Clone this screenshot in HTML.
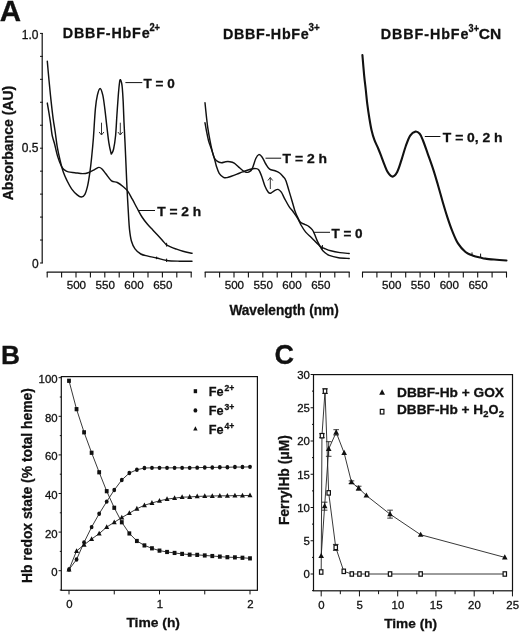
<!DOCTYPE html><html><head><meta charset="utf-8"><style>html,body{margin:0;padding:0;background:#fff;}body{width:520px;height:632px;overflow:hidden;}svg{display:block;will-change:transform;}text{font-family:"Liberation Sans",sans-serif;fill:#111;stroke:#111;stroke-width:0.3px;}</style></head><body>
<svg width="520" height="632" viewBox="0 0 520 632">
<rect width="520" height="632" fill="#fff"/>
<g stroke="#111" fill="none" stroke-linecap="butt">
<line x1="42.2" y1="33" x2="42.2" y2="263.2" stroke-width="1.2"/>
<line x1="40" y1="263" x2="42.8" y2="263" stroke-width="1"/>
<line x1="40" y1="240.04" x2="42.8" y2="240.04" stroke-width="1"/>
<line x1="40" y1="217.08" x2="42.8" y2="217.08" stroke-width="1"/>
<line x1="40" y1="194.12" x2="42.8" y2="194.12" stroke-width="1"/>
<line x1="40" y1="171.16" x2="42.8" y2="171.16" stroke-width="1"/>
<line x1="40" y1="148.2" x2="42.8" y2="148.2" stroke-width="1"/>
<line x1="40" y1="125.24" x2="42.8" y2="125.24" stroke-width="1"/>
<line x1="40" y1="102.28" x2="42.8" y2="102.28" stroke-width="1"/>
<line x1="40" y1="79.32" x2="42.8" y2="79.32" stroke-width="1"/>
<line x1="40" y1="56.36" x2="42.8" y2="56.36" stroke-width="1"/>
<line x1="40" y1="33.4" x2="42.8" y2="33.4" stroke-width="1"/>
<line x1="46.7" y1="272.2" x2="191.7" y2="272.2" stroke-width="1.2"/>
<line x1="47.2" y1="272" x2="47.2" y2="277.6" stroke-width="1.1"/>
<line x1="61.6" y1="272" x2="61.6" y2="277.6" stroke-width="1.1"/>
<line x1="76" y1="272" x2="76" y2="277.6" stroke-width="1.1"/>
<line x1="90.4" y1="272" x2="90.4" y2="277.6" stroke-width="1.1"/>
<line x1="104.8" y1="272" x2="104.8" y2="277.6" stroke-width="1.1"/>
<line x1="119.2" y1="272" x2="119.2" y2="277.6" stroke-width="1.1"/>
<line x1="133.6" y1="272" x2="133.6" y2="277.6" stroke-width="1.1"/>
<line x1="148" y1="272" x2="148" y2="277.6" stroke-width="1.1"/>
<line x1="162.4" y1="272" x2="162.4" y2="277.6" stroke-width="1.1"/>
<line x1="176.8" y1="272" x2="176.8" y2="277.6" stroke-width="1.1"/>
<line x1="191.2" y1="272" x2="191.2" y2="277.6" stroke-width="1.1"/>
<line x1="204.7" y1="272.2" x2="349.7" y2="272.2" stroke-width="1.2"/>
<line x1="205.2" y1="272" x2="205.2" y2="277.6" stroke-width="1.1"/>
<line x1="219.6" y1="272" x2="219.6" y2="277.6" stroke-width="1.1"/>
<line x1="234" y1="272" x2="234" y2="277.6" stroke-width="1.1"/>
<line x1="248.4" y1="272" x2="248.4" y2="277.6" stroke-width="1.1"/>
<line x1="262.8" y1="272" x2="262.8" y2="277.6" stroke-width="1.1"/>
<line x1="277.2" y1="272" x2="277.2" y2="277.6" stroke-width="1.1"/>
<line x1="291.6" y1="272" x2="291.6" y2="277.6" stroke-width="1.1"/>
<line x1="306" y1="272" x2="306" y2="277.6" stroke-width="1.1"/>
<line x1="320.4" y1="272" x2="320.4" y2="277.6" stroke-width="1.1"/>
<line x1="334.8" y1="272" x2="334.8" y2="277.6" stroke-width="1.1"/>
<line x1="349.2" y1="272" x2="349.2" y2="277.6" stroke-width="1.1"/>
<line x1="362" y1="272.2" x2="507" y2="272.2" stroke-width="1.2"/>
<line x1="362.5" y1="272" x2="362.5" y2="277.6" stroke-width="1.1"/>
<line x1="376.9" y1="272" x2="376.9" y2="277.6" stroke-width="1.1"/>
<line x1="391.3" y1="272" x2="391.3" y2="277.6" stroke-width="1.1"/>
<line x1="405.7" y1="272" x2="405.7" y2="277.6" stroke-width="1.1"/>
<line x1="420.1" y1="272" x2="420.1" y2="277.6" stroke-width="1.1"/>
<line x1="434.5" y1="272" x2="434.5" y2="277.6" stroke-width="1.1"/>
<line x1="448.9" y1="272" x2="448.9" y2="277.6" stroke-width="1.1"/>
<line x1="463.3" y1="272" x2="463.3" y2="277.6" stroke-width="1.1"/>
<line x1="477.7" y1="272" x2="477.7" y2="277.6" stroke-width="1.1"/>
<line x1="492.1" y1="272" x2="492.1" y2="277.6" stroke-width="1.1"/>
<line x1="506.5" y1="272" x2="506.5" y2="277.6" stroke-width="1.1"/>
</g>
<g stroke="#111" fill="none" stroke-width="1.45" stroke-linejoin="round" stroke-linecap="round">
<path d="M47.3,61.3 C47.58,64.47 48.4,73.97 49,80.3 C49.6,86.63 50.22,92.97 50.9,99.3 C51.58,105.63 52.38,112.85 53.1,118.3 C53.82,123.75 54.52,127.28 55.2,132 C55.88,136.72 56.4,141.95 57.2,146.6 C58,151.25 58.98,155.65 60,159.9 C61.02,164.15 62.1,168.58 63.3,172.1 C64.5,175.62 65.82,178.22 67.2,181 C68.58,183.78 69.93,186.48 71.6,188.8 C73.27,191.12 75.57,193.53 77.2,194.9 C78.83,196.27 80.12,197.1 81.4,197 C82.68,196.9 83.85,196.23 84.9,194.3 C85.95,192.37 86.87,189.1 87.7,185.4 C88.53,181.7 89.25,176.72 89.9,172.1 C90.55,167.48 91.02,163.38 91.6,157.7 C92.18,152.02 92.77,146.18 93.4,138 C94.03,129.82 94.73,115.73 95.4,108.6 C96.07,101.47 96.62,98.57 97.4,95.2 C98.18,91.83 99.2,88.4 100.1,88.4 C101,88.4 102.02,91.83 102.8,95.2 C103.58,98.57 104.13,103.45 104.8,108.6 C105.47,113.75 106.13,120.48 106.8,126.1 C107.47,131.72 108.12,137.88 108.8,142.3 C109.48,146.72 110.43,150.7 110.9,152.6 C111.37,154.5 111.15,154.3 111.6,153.7 C112.05,153.1 112.93,152.03 113.6,149 C114.27,145.97 115.05,141.12 115.6,135.5 C116.15,129.88 116.45,122.02 116.9,115.3 C117.35,108.58 117.85,100.75 118.3,95.2 C118.75,89.65 119.23,84.58 119.6,82 C119.97,79.42 120.17,79.53 120.5,79.7 C120.83,79.87 121.3,81.62 121.6,83 C121.9,84.38 122.03,84.85 122.3,88 C122.57,91.15 122.92,96.22 123.2,101.9 C123.48,107.58 123.7,115.37 124,122.1 C124.3,128.83 124.67,135.15 125,142.3 C125.33,149.45 125.65,157.05 126,165 C126.35,172.95 126.68,181.67 127.1,190 C127.52,198.33 128.1,208.43 128.5,215 C128.9,221.57 129.02,225.07 129.5,229.4 C129.98,233.73 130.48,237.75 131.4,241 C132.32,244.25 133.43,246.73 135,248.9 C136.57,251.07 138.63,252.8 140.8,254 C142.97,255.2 145.37,255.43 148,256.1 C150.63,256.77 153.48,257.27 156.6,258 C159.72,258.73 162.85,259.97 166.7,260.5 C170.55,261.03 175.48,261.08 179.7,261.2 C183.92,261.32 189.95,261.2 192,261.2"/>
<path d="M47.3,103.1 C47.58,104.78 48.45,109.82 49,113.2 C49.55,116.58 50.08,119.77 50.6,123.4 C51.12,127.03 51.47,131.68 52.1,135 C52.73,138.32 53.47,139.7 54.4,143.3 C55.33,146.9 56.5,152.72 57.7,156.6 C58.9,160.48 60.48,164.38 61.6,166.6 C62.72,168.82 63.28,169.02 64.4,169.9 C65.52,170.78 66.55,171.43 68.3,171.9 C70.05,172.37 72.5,172.42 74.9,172.7 C77.3,172.98 80.48,173.6 82.7,173.6 C84.92,173.6 86.17,173.4 88.2,172.7 C90.23,172 93.12,170.28 94.9,169.4 C96.68,168.52 97.72,167.47 98.9,167.4 C100.08,167.33 100.85,167.93 102,169 C103.15,170.07 104.22,171.83 105.8,173.8 C107.38,175.77 109.58,179.35 111.5,180.8 C113.42,182.25 115.38,181.55 117.3,182.5 C119.22,183.45 121.27,185.07 123,186.5 C124.73,187.93 126.15,188.98 127.7,191.1 C129.25,193.22 130.75,196.38 132.3,199.2 C133.85,202.02 135.38,205.03 137,208 C138.62,210.97 140.25,214.28 142,217 C143.75,219.72 145.67,222.1 147.5,224.3 C149.33,226.5 151.25,228.32 153,230.2 C154.75,232.08 156.42,233.88 158,235.6 C159.58,237.32 161.13,239 162.5,240.5 C163.87,242 164.95,243.58 166.2,244.6 C167.45,245.62 168.37,245.87 170,246.6 C171.63,247.33 173.83,248.22 176,249 C178.17,249.78 180.33,250.58 183,251.3 C185.67,252.02 190.5,252.97 192,253.3"/>
<path d="M205,102.8 C205.23,105.07 205.93,112.23 206.4,116.4 C206.87,120.57 207.2,123.77 207.8,127.8 C208.4,131.83 209.28,136.8 210,140.6 C210.72,144.4 211.4,147.75 212.1,150.6 C212.8,153.45 213.37,155.93 214.2,157.7 C215.03,159.47 215.9,160.37 217.1,161.2 C218.3,162.03 219.98,162.62 221.4,162.7 C222.82,162.78 224.18,161.87 225.6,161.7 C227.02,161.53 228.47,161.47 229.9,161.7 C231.33,161.93 232.77,162.23 234.2,163.1 C235.63,163.97 237.08,165.67 238.5,166.9 C239.92,168.13 241.45,169.6 242.7,170.5 C243.95,171.4 244.95,172.08 246,172.3 C247.05,172.52 248,172.32 249,171.8 C250,171.28 250.87,171.42 252,169.2 C253.13,166.98 254.67,160.93 255.8,158.5 C256.93,156.07 257.73,154.82 258.8,154.6 C259.87,154.38 261.03,155.63 262.2,157.2 C263.37,158.77 264.57,162 265.8,164 C267.03,166 268.07,168.07 269.6,169.2 C271.13,170.33 273.33,170.17 275,170.8 C276.67,171.43 278.27,172.05 279.6,173 C280.93,173.95 281.97,175.25 283,176.5 C284.03,177.75 284.78,178.07 285.8,180.5 C286.82,182.93 288,187.48 289.1,191.1 C290.2,194.72 291.48,199.07 292.4,202.2 C293.32,205.33 293.87,207.68 294.6,209.9 C295.33,212.12 295.87,213.47 296.8,215.5 C297.73,217.53 298.9,220.63 300.2,222.1 C301.5,223.57 303.13,223.55 304.6,224.3 C306.07,225.05 307.7,225.67 309,226.6 C310.3,227.53 311.47,228.62 312.4,229.9 C313.33,231.18 313.87,232.63 314.6,234.3 C315.33,235.97 315.97,238.05 316.8,239.9 C317.63,241.75 318.77,243.83 319.6,245.4 C320.43,246.97 320.98,248.15 321.8,249.3 C322.62,250.45 323.27,251.28 324.5,252.3 C325.73,253.32 326.87,254.5 329.2,255.4 C331.53,256.3 335.17,257.18 338.5,257.7 C341.83,258.22 347.42,258.37 349.2,258.5"/>
<path d="M205,122.8 C205.23,124.1 205.82,127.63 206.4,130.6 C206.98,133.57 207.67,137.52 208.5,140.6 C209.33,143.68 210.45,146.25 211.4,149.1 C212.35,151.95 213.37,154.85 214.2,157.7 C215.03,160.55 215.57,163.6 216.4,166.2 C217.23,168.8 218.02,171.45 219.2,173.3 C220.38,175.15 222.18,176.58 223.5,177.3 C224.82,178.02 225.8,177.78 227.1,177.6 C228.4,177.42 229.65,176.78 231.3,176.2 C232.95,175.62 235.1,174.82 237,174.1 C238.9,173.38 240.47,172.72 242.7,171.9 C244.93,171.08 248.22,169.75 250.4,169.2 C252.58,168.65 254.4,168.47 255.8,168.6 C257.2,168.73 257.78,168.62 258.8,170 C259.82,171.38 260.87,174.2 261.9,176.9 C262.93,179.6 263.93,183.63 265,186.2 C266.07,188.77 267.37,191.13 268.3,192.3 C269.23,193.47 269.62,193.45 270.6,193.2 C271.58,192.95 272.97,191.43 274.2,190.8 C275.43,190.17 276.82,189.17 278,189.4 C279.18,189.63 280.18,190.63 281.3,192.2 C282.42,193.77 283.4,196.4 284.7,198.8 C286,201.2 287.63,204.37 289.1,206.6 C290.57,208.83 292.02,210.17 293.5,212.2 C294.98,214.23 296.7,216.58 298,218.8 C299.3,221.02 300.02,223.28 301.3,225.5 C302.58,227.72 304.03,230.08 305.7,232.1 C307.37,234.12 309.63,235.93 311.3,237.6 C312.97,239.27 314.23,240.65 315.7,242.1 C317.17,243.55 318.62,245.23 320.1,246.3 C321.58,247.37 322.82,247.75 324.6,248.5 C326.38,249.25 328.23,250.12 330.8,250.8 C333.37,251.48 336.93,252.15 340,252.6 C343.07,253.05 347.67,253.35 349.2,253.5"/>
<path d="M362.4,55 C362.7,58.47 363.63,69.97 364.2,75.8 C364.77,81.63 365.28,85.27 365.8,90 C366.32,94.73 366.7,99.45 367.3,104.2 C367.9,108.95 368.7,114.22 369.4,118.5 C370.1,122.78 370.67,126.33 371.5,129.9 C372.33,133.47 373.32,136.88 374.4,139.9 C375.48,142.92 376.85,145.27 378,148 C379.15,150.73 380.23,153.53 381.3,156.3 C382.37,159.07 383.3,161.92 384.4,164.6 C385.5,167.28 386.55,170.4 387.9,172.4 C389.25,174.4 390.95,176.68 392.5,176.6 C394.05,176.52 395.7,174.7 397.2,171.9 C398.7,169.1 400.07,164.12 401.5,159.8 C402.93,155.48 404.35,150.03 405.8,146 C407.25,141.97 408.6,138 410.2,135.6 C411.8,133.2 413.82,131.9 415.4,131.6 C416.98,131.3 418.47,132.4 419.7,133.8 C420.93,135.2 421.48,136.75 422.8,140 C424.12,143.25 425.85,148.37 427.6,153.3 C429.35,158.23 431.57,164.28 433.3,169.6 C435.03,174.92 436.42,179.77 438,185.2 C439.58,190.63 441.22,196.8 442.8,202.2 C444.38,207.6 445.92,212.78 447.5,217.6 C449.08,222.42 450.55,226.8 452.3,231.1 C454.05,235.4 455.8,239.92 458,243.4 C460.2,246.88 462.98,249.95 465.5,252 C468.02,254.05 470.58,254.77 473.1,255.7 C475.62,256.63 478.55,257.12 480.6,257.6 C482.65,258.08 483.17,258.28 485.4,258.6 C487.63,258.92 490.48,259.18 494,259.5 C497.52,259.82 504.42,260.33 506.5,260.5" stroke-width="2.1"/>
</g>
<g stroke="#111" stroke-width="1.1">
<line x1="166.6" y1="258.6" x2="166.6" y2="262" stroke-width="1"/>
<line x1="166.6" y1="242.8" x2="166.6" y2="246.6" stroke-width="1"/>
<line x1="156.6" y1="256.6" x2="156.6" y2="259.2" stroke-width="1"/>
<line x1="322.4" y1="245" x2="322.4" y2="249.6" stroke-width="1"/>
<line x1="472" y1="252.4" x2="472" y2="255.6" stroke-width="1"/>
<line x1="480.6" y1="253.6" x2="480.6" y2="257.8" stroke-width="1"/>
</g>
<g stroke="#111" stroke-width="1.2">
<line x1="125.4" y1="82.6" x2="142.3" y2="82.6" stroke-width="1"/>
<line x1="138.8" y1="210.5" x2="155" y2="210.5" stroke-width="1"/>
<line x1="265.5" y1="158.2" x2="281.2" y2="158.2" stroke-width="1"/>
<line x1="313.5" y1="232.3" x2="330" y2="232.3" stroke-width="1"/>
<line x1="424.8" y1="136.5" x2="440.4" y2="136.5" stroke-width="1"/>
</g>
<line x1="101.5" y1="122.7" x2="101.5" y2="135" stroke="#333" stroke-width="1.0"/>
<path d="M99.1,132 L101.5,135 L103.9,132" fill="none" stroke="#333" stroke-width="1.0"/>
<line x1="120.3" y1="122.7" x2="120.3" y2="135" stroke="#333" stroke-width="1.0"/>
<path d="M117.9,132 L120.3,135 L122.7,132" fill="none" stroke="#333" stroke-width="1.0"/>
<line x1="270.3" y1="177.5" x2="270.3" y2="189" stroke="#333" stroke-width="1.0"/>
<path d="M267.9,180.5 L270.3,177.5 L272.7,180.5" fill="none" stroke="#333" stroke-width="1.0"/>
<text x="-0.3" y="20.8" font-size="29.5" font-weight="bold">A</text>
<text x="62.8" y="38" font-size="14.3" font-weight="bold" textLength="86.8" lengthAdjust="spacing">DBBF-HbFe</text>
<text x="149.4" y="30.6" font-size="10.2" font-weight="bold" textLength="10.6" lengthAdjust="spacingAndGlyphs">2+</text>
<text x="222.9" y="38.7" font-size="14.3" font-weight="bold" textLength="85.8" lengthAdjust="spacing">DBBF-HbFe</text>
<text x="308.5" y="31.3" font-size="10.2" font-weight="bold" textLength="11.2" lengthAdjust="spacingAndGlyphs">3+</text>
<text x="380.8" y="38.9" font-size="14.3" font-weight="bold" textLength="87.6" lengthAdjust="spacing">DBBF-HbFe</text>
<text x="468.6" y="31.5" font-size="10.2" font-weight="bold" textLength="10.4" lengthAdjust="spacingAndGlyphs">3+</text>
<text x="478.8" y="38.9" font-size="13.9" font-weight="bold" textLength="22.4" lengthAdjust="spacingAndGlyphs">CN</text>
<text x="143.6" y="88.3" font-size="13.2" font-weight="bold" textLength="31.2" lengthAdjust="spacingAndGlyphs">T = 0</text>
<text x="157.2" y="216.2" font-size="13.2" font-weight="bold" textLength="44" lengthAdjust="spacingAndGlyphs">T = 2 h</text>
<text x="282.6" y="163.4" font-size="13.2" font-weight="bold" textLength="44.4" lengthAdjust="spacingAndGlyphs">T = 2 h</text>
<text x="331.4" y="237.6" font-size="13.2" font-weight="bold" textLength="31.2" lengthAdjust="spacingAndGlyphs">T = 0</text>
<text x="442.8" y="142.3" font-size="13.2" font-weight="bold" textLength="59.8" lengthAdjust="spacingAndGlyphs">T = 0, 2 h</text>
<text x="38.4" y="38.7" font-size="12" text-anchor="end">1.0</text>
<text x="38.4" y="151.5" font-size="12" text-anchor="end">0.5</text>
<text x="38.7" y="267.5" font-size="12" text-anchor="end">0</text>
<text x="76.4" y="288.7" font-size="11.6" text-anchor="middle">500</text>
<text x="105.2" y="288.7" font-size="11.6" text-anchor="middle">550</text>
<text x="134" y="288.7" font-size="11.6" text-anchor="middle">600</text>
<text x="162.8" y="288.7" font-size="11.6" text-anchor="middle">650</text>
<text x="234.4" y="288.7" font-size="11.6" text-anchor="middle">500</text>
<text x="263.2" y="288.7" font-size="11.6" text-anchor="middle">550</text>
<text x="292" y="288.7" font-size="11.6" text-anchor="middle">600</text>
<text x="320.8" y="288.7" font-size="11.6" text-anchor="middle">650</text>
<text x="391.7" y="288.7" font-size="11.6" text-anchor="middle">500</text>
<text x="420.5" y="288.7" font-size="11.6" text-anchor="middle">550</text>
<text x="449.3" y="288.7" font-size="11.6" text-anchor="middle">600</text>
<text x="478.1" y="288.7" font-size="11.6" text-anchor="middle">650</text>
<text x="229.4" y="314.5" font-size="14" font-weight="bold" textLength="109.4" lengthAdjust="spacingAndGlyphs">Wavelength (nm)</text>
<text transform="translate(12.7,200.3) rotate(-90)" x="0" y="0" font-size="14.4" font-weight="bold" textLength="114.6" lengthAdjust="spacingAndGlyphs">Absorbance (AU)</text>
<g stroke="#111" fill="none">
<rect x="61.3" y="376.6" width="196.1" height="213.7" stroke-width="1.2"/>
<line x1="59.8" y1="590" x2="61.3" y2="590" stroke-width="1"/>
<line x1="58.6" y1="570.7" x2="61.3" y2="570.7" stroke-width="1"/>
<line x1="59.8" y1="551.4" x2="61.3" y2="551.4" stroke-width="1"/>
<line x1="58.6" y1="532.1" x2="61.3" y2="532.1" stroke-width="1"/>
<line x1="59.8" y1="512.8" x2="61.3" y2="512.8" stroke-width="1"/>
<line x1="58.6" y1="493.5" x2="61.3" y2="493.5" stroke-width="1"/>
<line x1="59.8" y1="474.2" x2="61.3" y2="474.2" stroke-width="1"/>
<line x1="58.6" y1="454.9" x2="61.3" y2="454.9" stroke-width="1"/>
<line x1="59.8" y1="435.6" x2="61.3" y2="435.6" stroke-width="1"/>
<line x1="58.6" y1="416.3" x2="61.3" y2="416.3" stroke-width="1"/>
<line x1="59.8" y1="397" x2="61.3" y2="397" stroke-width="1"/>
<line x1="58.6" y1="377.7" x2="61.3" y2="377.7" stroke-width="1"/>
<line x1="69" y1="590.3" x2="69" y2="594.4" stroke-width="1"/>
<line x1="114.25" y1="590.3" x2="114.25" y2="594.4" stroke-width="1"/>
<line x1="159.5" y1="590.3" x2="159.5" y2="594.4" stroke-width="1"/>
<line x1="204.75" y1="590.3" x2="204.75" y2="594.4" stroke-width="1"/>
<line x1="250" y1="590.3" x2="250" y2="594.4" stroke-width="1"/>
</g>
<g stroke="#222" fill="none" stroke-width="0.9">
<path d="M69,380.79 L76.54,409.16 L84.08,432.32 L91.62,452.78 L99.17,472.27 L106.71,491.18 L114.25,507.78 L121.79,522.26 L129.33,533.45 L136.88,540.98 L144.42,545.42 L151.96,548.31 L159.5,550.63 L167.04,551.98 L174.58,552.94 L182.12,553.91 L189.67,554.68 L197.21,554.87 L204.75,555.45 L212.29,556.03 L219.83,556.61 L227.38,557.19 L234.92,557.38 L242.46,557.77 L250,558.35"/>
<path d="M69,569.54 L76.54,559.51 L84.08,542.33 L91.62,527.08 L99.17,513.77 L106.71,501.61 L114.25,490.03 L121.79,479.99 L129.33,473.04 L136.88,469.76 L144.42,468.02 L151.96,467.83 L159.5,467.83 L167.04,467.83 L174.58,467.83 L182.12,467.83 L189.67,467.83 L197.21,467.64 L204.75,467.45 L212.29,467.45 L219.83,467.25 L227.38,467.25 L234.92,467.06 L242.46,467.06 L250,466.87"/>
<path d="M69,569.54 L76.54,551.01 L84.08,544.84 L91.62,539.05 L99.17,533.64 L106.71,527.08 L114.25,522.26 L121.79,517.62 L129.33,513.19 L136.88,508.75 L144.42,505.27 L151.96,502.96 L159.5,500.83 L167.04,499.1 L174.58,498.13 L182.12,497.17 L189.67,496.97 L197.21,496.4 L204.75,496.2 L212.29,496.01 L219.83,495.82 L227.38,495.82 L234.92,495.62 L242.46,495.62 L250,495.43"/>
</g>
<g fill="#111" stroke="none">
<rect x="67.1" y="378.69" width="3.8" height="4.2"/>
<rect x="74.64" y="407.06" width="3.8" height="4.2"/>
<rect x="82.18" y="430.22" width="3.8" height="4.2"/>
<rect x="89.72" y="450.68" width="3.8" height="4.2"/>
<rect x="97.27" y="470.17" width="3.8" height="4.2"/>
<rect x="104.81" y="489.08" width="3.8" height="4.2"/>
<rect x="112.35" y="505.68" width="3.8" height="4.2"/>
<rect x="119.89" y="520.16" width="3.8" height="4.2"/>
<rect x="127.43" y="531.35" width="3.8" height="4.2"/>
<rect x="134.97" y="538.88" width="3.8" height="4.2"/>
<rect x="142.52" y="543.32" width="3.8" height="4.2"/>
<rect x="150.06" y="546.21" width="3.8" height="4.2"/>
<rect x="157.6" y="548.53" width="3.8" height="4.2"/>
<rect x="165.14" y="549.88" width="3.8" height="4.2"/>
<rect x="172.68" y="550.84" width="3.8" height="4.2"/>
<rect x="180.22" y="551.81" width="3.8" height="4.2"/>
<rect x="187.77" y="552.58" width="3.8" height="4.2"/>
<rect x="195.31" y="552.77" width="3.8" height="4.2"/>
<rect x="202.85" y="553.35" width="3.8" height="4.2"/>
<rect x="210.39" y="553.93" width="3.8" height="4.2"/>
<rect x="217.93" y="554.51" width="3.8" height="4.2"/>
<rect x="225.47" y="555.09" width="3.8" height="4.2"/>
<rect x="233.02" y="555.28" width="3.8" height="4.2"/>
<rect x="240.56" y="555.67" width="3.8" height="4.2"/>
<rect x="248.1" y="556.25" width="3.8" height="4.2"/>
<ellipse cx="69" cy="569.54" rx="1.9" ry="2.2"/>
<ellipse cx="76.54" cy="559.51" rx="1.9" ry="2.2"/>
<ellipse cx="84.08" cy="542.33" rx="1.9" ry="2.2"/>
<ellipse cx="91.62" cy="527.08" rx="1.9" ry="2.2"/>
<ellipse cx="99.17" cy="513.77" rx="1.9" ry="2.2"/>
<ellipse cx="106.71" cy="501.61" rx="1.9" ry="2.2"/>
<ellipse cx="114.25" cy="490.03" rx="1.9" ry="2.2"/>
<ellipse cx="121.79" cy="479.99" rx="1.9" ry="2.2"/>
<ellipse cx="129.33" cy="473.04" rx="1.9" ry="2.2"/>
<ellipse cx="136.88" cy="469.76" rx="1.9" ry="2.2"/>
<ellipse cx="144.42" cy="468.02" rx="1.9" ry="2.2"/>
<ellipse cx="151.96" cy="467.83" rx="1.9" ry="2.2"/>
<ellipse cx="159.5" cy="467.83" rx="1.9" ry="2.2"/>
<ellipse cx="167.04" cy="467.83" rx="1.9" ry="2.2"/>
<ellipse cx="174.58" cy="467.83" rx="1.9" ry="2.2"/>
<ellipse cx="182.12" cy="467.83" rx="1.9" ry="2.2"/>
<ellipse cx="189.67" cy="467.83" rx="1.9" ry="2.2"/>
<ellipse cx="197.21" cy="467.64" rx="1.9" ry="2.2"/>
<ellipse cx="204.75" cy="467.45" rx="1.9" ry="2.2"/>
<ellipse cx="212.29" cy="467.45" rx="1.9" ry="2.2"/>
<ellipse cx="219.83" cy="467.25" rx="1.9" ry="2.2"/>
<ellipse cx="227.38" cy="467.25" rx="1.9" ry="2.2"/>
<ellipse cx="234.92" cy="467.06" rx="1.9" ry="2.2"/>
<ellipse cx="242.46" cy="467.06" rx="1.9" ry="2.2"/>
<ellipse cx="250" cy="466.87" rx="1.9" ry="2.2"/>
<path d="M69,566.66 L71.5,571.46 L66.5,571.46 Z"/>
<path d="M76.54,548.13 L79.04,552.93 L74.04,552.93 Z"/>
<path d="M84.08,541.96 L86.58,546.76 L81.58,546.76 Z"/>
<path d="M91.62,536.17 L94.12,540.97 L89.12,540.97 Z"/>
<path d="M99.17,530.76 L101.67,535.56 L96.67,535.56 Z"/>
<path d="M106.71,524.2 L109.21,529 L104.21,529 Z"/>
<path d="M114.25,519.38 L116.75,524.18 L111.75,524.18 Z"/>
<path d="M121.79,514.75 L124.29,519.54 L119.29,519.54 Z"/>
<path d="M129.33,510.31 L131.83,515.11 L126.83,515.11 Z"/>
<path d="M136.88,505.87 L139.38,510.67 L134.38,510.67 Z"/>
<path d="M144.42,502.39 L146.92,507.19 L141.92,507.19 Z"/>
<path d="M151.96,500.08 L154.46,504.88 L149.46,504.88 Z"/>
<path d="M159.5,497.95 L162,502.75 L157,502.75 Z"/>
<path d="M167.04,496.22 L169.54,501.02 L164.54,501.02 Z"/>
<path d="M174.58,495.25 L177.08,500.05 L172.08,500.05 Z"/>
<path d="M182.12,494.29 L184.62,499.09 L179.62,499.09 Z"/>
<path d="M189.67,494.09 L192.17,498.89 L187.17,498.89 Z"/>
<path d="M197.21,493.52 L199.71,498.32 L194.71,498.32 Z"/>
<path d="M204.75,493.32 L207.25,498.12 L202.25,498.12 Z"/>
<path d="M212.29,493.13 L214.79,497.93 L209.79,497.93 Z"/>
<path d="M219.83,492.94 L222.33,497.74 L217.33,497.74 Z"/>
<path d="M227.38,492.94 L229.88,497.74 L224.88,497.74 Z"/>
<path d="M234.92,492.74 L237.42,497.54 L232.42,497.54 Z"/>
<path d="M242.46,492.74 L244.96,497.54 L239.96,497.54 Z"/>
<path d="M250,492.55 L252.5,497.35 L247.5,497.35 Z"/>
<rect x="193.7" y="389.2" width="3.4" height="4"/>
<ellipse cx="195.4" cy="410.4" rx="1.9" ry="2.2"/>
<path d="M195.4,426.28 L197.6,430.48 L193.2,430.48 Z"/>
</g>
<text x="1" y="364.2" font-size="25.5" font-weight="bold" textLength="19" lengthAdjust="spacingAndGlyphs">B</text>
<text x="57.6" y="576.2" font-size="11.4" text-anchor="end">0</text>
<text x="57.6" y="537.6" font-size="11.4" text-anchor="end">20</text>
<text x="57.6" y="499" font-size="11.4" text-anchor="end">40</text>
<text x="57.6" y="460.4" font-size="11.4" text-anchor="end">60</text>
<text x="57.6" y="421.8" font-size="11.4" text-anchor="end">80</text>
<text x="57.6" y="383.2" font-size="11.4" text-anchor="end">100</text>
<text x="69.4" y="608" font-size="11.4" text-anchor="middle">0</text>
<text x="159.9" y="608" font-size="11.4" text-anchor="middle">1</text>
<text x="250.4" y="608" font-size="11.4" text-anchor="middle">2</text>
<text x="126.4" y="627.4" font-size="13.6" font-weight="bold" textLength="53.6" lengthAdjust="spacingAndGlyphs">Time (h)</text>
<text x="208.8" y="395.8" font-size="12.6" font-weight="bold" textLength="14.8" lengthAdjust="spacingAndGlyphs">Fe</text>
<text x="224.4" y="390.8" font-size="8.6" font-weight="bold">2+</text>
<text x="208.8" y="414.65" font-size="12.6" font-weight="bold" textLength="14.8" lengthAdjust="spacingAndGlyphs">Fe</text>
<text x="224.4" y="409.65" font-size="8.6" font-weight="bold">3+</text>
<text x="208.8" y="433.5" font-size="12.6" font-weight="bold" textLength="14.8" lengthAdjust="spacingAndGlyphs">Fe</text>
<text x="224.4" y="428.5" font-size="8.6" font-weight="bold">4+</text>
<text transform="translate(32.2,583.0) rotate(-90)" x="0" y="0" font-size="14.3" font-weight="bold" textLength="194.8" lengthAdjust="spacingAndGlyphs">Hb redox state (% total heme)</text>
<g stroke="#111" fill="none">
<rect x="313.5" y="374.6" width="199.0" height="216.2" stroke-width="1.2"/>
<line x1="312" y1="590.62" x2="313.5" y2="590.62" stroke-width="1"/>
<line x1="310.6" y1="574" x2="313.5" y2="574" stroke-width="1"/>
<line x1="312" y1="557.38" x2="313.5" y2="557.38" stroke-width="1"/>
<line x1="310.6" y1="540.75" x2="313.5" y2="540.75" stroke-width="1"/>
<line x1="312" y1="524.12" x2="313.5" y2="524.12" stroke-width="1"/>
<line x1="310.6" y1="507.5" x2="313.5" y2="507.5" stroke-width="1"/>
<line x1="312" y1="490.88" x2="313.5" y2="490.88" stroke-width="1"/>
<line x1="310.6" y1="474.25" x2="313.5" y2="474.25" stroke-width="1"/>
<line x1="312" y1="457.62" x2="313.5" y2="457.62" stroke-width="1"/>
<line x1="310.6" y1="441" x2="313.5" y2="441" stroke-width="1"/>
<line x1="312" y1="424.38" x2="313.5" y2="424.38" stroke-width="1"/>
<line x1="310.6" y1="407.75" x2="313.5" y2="407.75" stroke-width="1"/>
<line x1="312" y1="391.12" x2="313.5" y2="391.12" stroke-width="1"/>
<line x1="310.6" y1="374.5" x2="313.5" y2="374.5" stroke-width="1"/>
<line x1="321.2" y1="590.8" x2="321.2" y2="596.4" stroke-width="1"/>
<line x1="340.32" y1="590.8" x2="340.32" y2="594.2" stroke-width="1"/>
<line x1="359.45" y1="590.8" x2="359.45" y2="596.4" stroke-width="1"/>
<line x1="378.57" y1="590.8" x2="378.57" y2="594.2" stroke-width="1"/>
<line x1="397.7" y1="590.8" x2="397.7" y2="596.4" stroke-width="1"/>
<line x1="416.82" y1="590.8" x2="416.82" y2="594.2" stroke-width="1"/>
<line x1="435.95" y1="590.8" x2="435.95" y2="596.4" stroke-width="1"/>
<line x1="455.07" y1="590.8" x2="455.07" y2="594.2" stroke-width="1"/>
<line x1="474.2" y1="590.8" x2="474.2" y2="596.4" stroke-width="1"/>
<line x1="493.32" y1="590.8" x2="493.32" y2="594.2" stroke-width="1"/>
<line x1="512.45" y1="590.8" x2="512.45" y2="596.4" stroke-width="1"/>
</g>
<g stroke="#222" fill="none" stroke-width="0.9">
<path d="M321.2,556.04 L324.64,506.17 L328.7,448.98 L336.19,432.36 L344.15,452.97 L351.49,482.23 L358.69,488.21 L366.33,495.53 L390.05,514.15 L420.65,534.76 L504.8,557.38"/>
<path d="M321.2,572 L321.96,435.68 L325.02,391.12 L328.7,492.87 L335.74,547.4 L343.77,571.34 L351.8,574 L359.45,574 L367.1,574 L390.05,574 L420.65,574 L504.8,574"/>
<path d="M324.64,502.18 L324.64,510.16 M321.84,502.18 L327.44,502.18 M321.84,510.16 L327.44,510.16"/>
<path d="M328.7,441.66 L328.7,456.3 M325.9,441.66 L331.5,441.66 M325.9,456.3 L331.5,456.3"/>
<path d="M336.19,429.69 L336.19,435.01 M333.39,429.69 L338.99,429.69 M333.39,435.01 L338.99,435.01"/>
<path d="M390.05,510.16 L390.05,518.14 M387.25,510.16 L392.85,510.16 M387.25,518.14 L392.85,518.14"/>
<path d="M325.02,388.8 L325.02,393.45 M322.22,388.8 L327.82,388.8 M322.22,393.45 L327.82,393.45"/>
<path d="M321.96,433.68 L321.96,437.67 M319.16,433.68 L324.76,433.68 M319.16,437.67 L324.76,437.67"/>
<path d="M335.74,544.41 L335.74,550.39 M332.94,544.41 L338.54,544.41 M332.94,550.39 L338.54,550.39"/>
<path d="M351.49,480.9 L351.49,483.56 M348.69,480.9 L354.29,480.9 M348.69,483.56 L354.29,483.56"/>
<path d="M358.69,486.22 L358.69,490.21 M355.88,486.22 L361.49,486.22 M355.88,490.21 L361.49,490.21"/>
</g>
<g fill="#111" stroke="none">
<path d="M321.2,552.92 L324,558.12 L318.4,558.12 Z"/>
<path d="M324.64,503.05 L327.44,508.25 L321.84,508.25 Z"/>
<path d="M328.7,445.86 L331.5,451.06 L325.9,451.06 Z"/>
<path d="M336.19,429.24 L338.99,434.44 L333.39,434.44 Z"/>
<path d="M344.15,449.85 L346.95,455.05 L341.35,455.05 Z"/>
<path d="M351.49,479.11 L354.29,484.31 L348.69,484.31 Z"/>
<path d="M358.69,485.09 L361.49,490.29 L355.88,490.29 Z"/>
<path d="M366.33,492.41 L369.13,497.61 L363.53,497.61 Z"/>
<path d="M390.05,511.03 L392.85,516.23 L387.25,516.23 Z"/>
<path d="M420.65,531.64 L423.45,536.85 L417.85,536.85 Z"/>
<path d="M504.8,554.25 L507.6,559.46 L502,559.46 Z"/>
</g>
<g fill="#fff" stroke="#111" stroke-width="1.2">
<rect x="319.5" y="569.8" width="3.4" height="4.4"/>
<rect x="320.26" y="433.48" width="3.4" height="4.4"/>
<rect x="323.32" y="388.93" width="3.4" height="4.4"/>
<rect x="327" y="490.67" width="3.4" height="4.4"/>
<rect x="334.04" y="545.2" width="3.4" height="4.4"/>
<rect x="342.07" y="569.14" width="3.4" height="4.4"/>
<rect x="350.1" y="571.8" width="3.4" height="4.4"/>
<rect x="357.75" y="571.8" width="3.4" height="4.4"/>
<rect x="365.4" y="571.8" width="3.4" height="4.4"/>
<rect x="388.35" y="571.8" width="3.4" height="4.4"/>
<rect x="418.95" y="571.8" width="3.4" height="4.4"/>
<rect x="503.1" y="571.8" width="3.4" height="4.4"/>
<rect x="380.3" y="409.4" width="3.6" height="4.6"/>
</g>
<g fill="#111" stroke="none">
<path d="M382.1,389.26 L385,394.66 L379.2,394.66 Z"/>
</g>
<text x="274.4" y="364.4" font-size="27" font-weight="bold">C</text>
<text x="309.8" y="578.4" font-size="11.4" text-anchor="end">0</text>
<text x="309.8" y="545.15" font-size="11.4" text-anchor="end">5</text>
<text x="309.8" y="511.9" font-size="11.4" text-anchor="end">10</text>
<text x="309.8" y="478.65" font-size="11.4" text-anchor="end">15</text>
<text x="309.8" y="445.4" font-size="11.4" text-anchor="end">20</text>
<text x="309.8" y="412.15" font-size="11.4" text-anchor="end">25</text>
<text x="309.8" y="378.9" font-size="11.4" text-anchor="end">30</text>
<text x="321.4" y="609.2" font-size="11.4" text-anchor="middle">0</text>
<text x="359.65" y="609.2" font-size="11.4" text-anchor="middle">5</text>
<text x="397.9" y="609.2" font-size="11.4" text-anchor="middle">10</text>
<text x="436.15" y="609.2" font-size="11.4" text-anchor="middle">15</text>
<text x="474.4" y="609.2" font-size="11.4" text-anchor="middle">20</text>
<text x="512.65" y="609.2" font-size="11.4" text-anchor="middle">25</text>
<text x="384.2" y="627.8" font-size="13.6" font-weight="bold" textLength="53" lengthAdjust="spacingAndGlyphs">Time (h)</text>
<text x="397" y="396.9" font-size="13.4" font-weight="bold" textLength="107" lengthAdjust="spacingAndGlyphs">DBBF-Hb + GOX</text>
<text x="397" y="413.8" font-size="13.4" font-weight="bold" textLength="86.2" lengthAdjust="spacingAndGlyphs">DBBF-Hb + H</text>
<text x="483.3" y="417" font-size="8.8" font-weight="bold" textLength="5.2" lengthAdjust="spacingAndGlyphs">2</text>
<text x="488.6" y="413.8" font-size="13.4" font-weight="bold" textLength="10" lengthAdjust="spacingAndGlyphs">O</text>
<text x="498.8" y="417" font-size="8.8" font-weight="bold" textLength="5.2" lengthAdjust="spacingAndGlyphs">2</text>
<text transform="translate(288.9,525.1) rotate(-90)" x="0" y="0" font-size="14.1" font-weight="bold" textLength="90.0" lengthAdjust="spacingAndGlyphs">FerrylHb (μM)</text>
</svg></body></html>
